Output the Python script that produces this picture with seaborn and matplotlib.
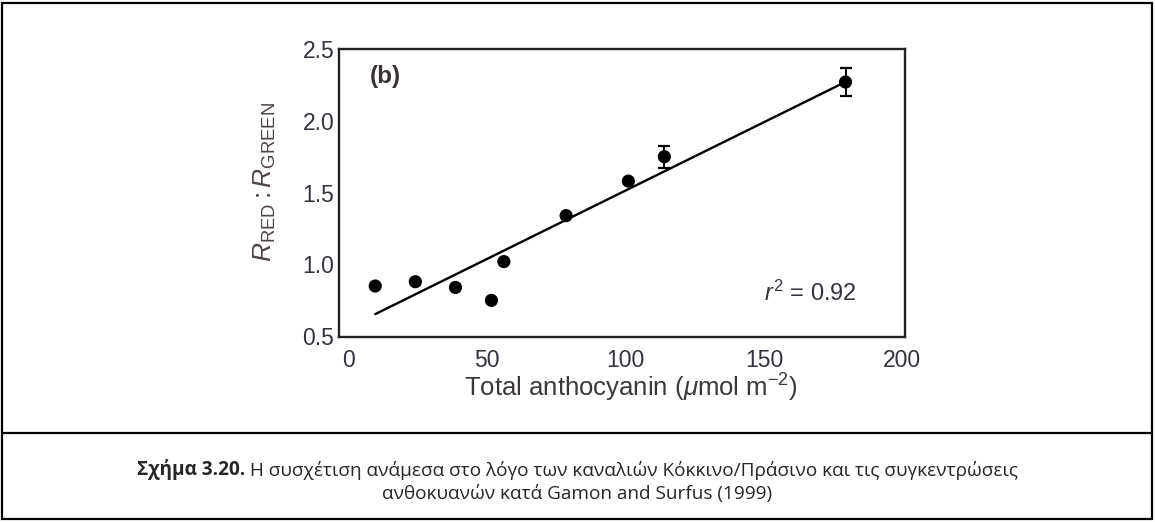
import matplotlib
matplotlib.use("Agg")
import matplotlib.pyplot as plt
from matplotlib.patches import Rectangle
from matplotlib.lines import Line2D
import pandas as pd
import seaborn as sns

# Total anthocyanin (umol m-2) against the red:green reflectance ratio
anthocyanin = [9.5, 24.0, 38.5, 51.5, 56.0, 78.5, 101.0, 114.0, 179.5]
ratio = [0.85, 0.88, 0.84, 0.75, 1.02, 1.34, 1.58, 1.75, 2.27]
ratio_err = [0, 0, 0, 0, 0, 0, 0, 0.075, 0.095]

x_ticks = [0, 50, 100, 150, 200]
y_ticks = [0.5, 1.0, 1.5, 2.0, 2.5]
panel_label = "(b)"
r2_label = r"$r^2\!\;{=}\,0.92$"
x_label = r"Total anthocyanin ($\mu$mol m$^{-2}$)"
y_label = r"$R_{\mathrm{RED}}:R_{\mathrm{GREEN}}$"
caption_bold = "Σχήμα 3.20."
caption_rest = " Η συσχέτιση ανάμεσα στο λόγο των καναλιών Κόκκινο/Πράσινο και τις συγκεντρώσεις"
caption_line2 = "ανθοκυανών κατά Gamon and Surfus (1999)"

df = pd.DataFrame({"anthocyanin": anthocyanin, "ratio": ratio, "err": ratio_err})

sns.set_theme(style="white")
plt.rcParams["font.family"] = ["Liberation Sans", "DejaVu Sans"]
plt.rcParams["mathtext.fontset"] = "custom"
plt.rcParams["mathtext.rm"] = "Liberation Sans"
plt.rcParams["mathtext.it"] = "Liberation Sans:italic"

W, H = 1155, 522
fig = plt.figure(figsize=(W / 100, H / 100), dpi=100)
fig.patch.set_facecolor("white")

# axes box in pixel terms
left, right, top, bottom = 339, 905, 49, 337
ax = fig.add_axes([left / W, 1 - bottom / H, (right - left) / W, (bottom - top) / H])

sns.regplot(data=df, x="anthocyanin", y="ratio", ax=ax, ci=None, truncate=True,
            scatter_kws=dict(s=90, color="black", alpha=1, edgecolor="none", zorder=3),
            line_kws=dict(color="black", lw=1.7, zorder=2))

with_err = df[df["err"] > 0]
ax.errorbar(with_err["anthocyanin"], with_err["ratio"], yerr=with_err["err"],
            fmt="none", ecolor="black", elinewidth=1.4, capsize=4.5, capthick=1.6, zorder=3)

ax.set_xlim(-3.6, 201)
ax.set_ylim(0.495, 2.5)
ax.set_xticks(x_ticks)
ax.set_yticks(y_ticks)
ax.set_xticklabels([str(v) for v in x_ticks])
ax.set_yticklabels([f"{v:.1f}" for v in y_ticks])

for sp in ax.spines.values():
    sp.set_visible(True)
    sp.set_color("#222222")
    sp.set_linewidth(1.7)

tick_color = "#33333d"
ax.tick_params(axis="x", direction="in", length=9, width=1.4, color="black",
               pad=8.5, labelsize=16.5, labelcolor=tick_color)
ax.tick_params(axis="y", direction="in", length=9, width=1.4, color="black",
               pad=3.5, labelsize=16.5, labelcolor=tick_color)

ax.set_xlabel(x_label, fontsize=18.5, color="#3d3838")
ax.set_ylabel(y_label, fontsize=19, color="#4f4444")
ax.xaxis.label.set_va("center")
ax.yaxis.label.set_va("center")
ax.yaxis.label.set_ha("center")
ax.xaxis.set_label_coords(0.515, -0.177)
ax.yaxis.set_label_coords(-0.131, 0.54)

ax.text(0.055, 0.905, panel_label, transform=ax.transAxes, fontsize=17.5,
        fontweight="bold", color="#3a3333", va="center", ha="left")
ax.text(0.915, 0.152, r2_label, transform=ax.transAxes, fontsize=17,
        color="#33333d", va="center", ha="right")

# outer frame and caption divider
fig.add_artist(Rectangle((2 / W, 3 / H), (W - 5) / W, (H - 6) / H,
                         transform=fig.transFigure, fill=False, ec="black", lw=1.6))
fig.add_artist(Line2D([2 / W, (W - 3) / W], [1 - 433 / H, 1 - 433 / H],
                      transform=fig.transFigure, color="black", lw=1.6))

cap_font = ["Open Sans", "DejaVu Sans"]
cap_size = 13.7
renderer = fig.canvas.get_renderer()
t_bold = fig.text(0, 0, caption_bold, fontsize=cap_size, fontweight="bold", family=cap_font)
t_rest = fig.text(0, 0, caption_rest, fontsize=cap_size, family=cap_font)
wb = t_bold.get_window_extent(renderer).width
wr = t_rest.get_window_extent(renderer).width
x0 = (W - (wb + wr)) / 2
y1 = 1 - 470 / H
t_bold.set_position((x0 / W, y1))
t_bold.set_va("center")
t_rest.set_position(((x0 + wb) / W, y1))
t_rest.set_va("center")
fig.text(0.5, 1 - 494 / H, caption_line2, fontsize=cap_size, family=cap_font,
         ha="center", va="center")

fig.savefig("out.png", dpi=100)
